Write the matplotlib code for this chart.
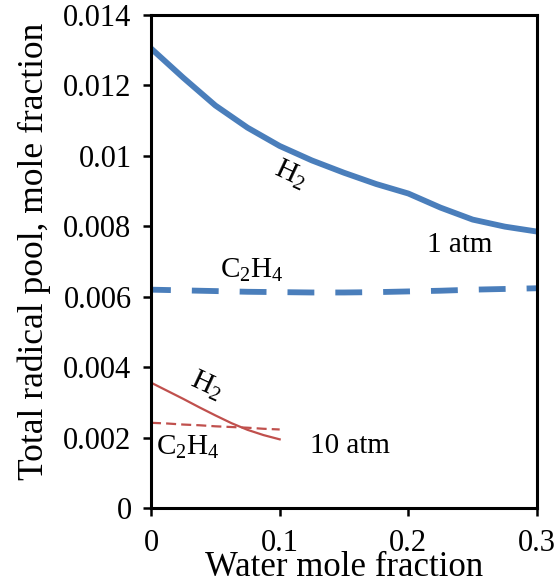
import matplotlib
matplotlib.use("Agg")
from matplotlib import pyplot as plt

plt.rcParams['font.family'] = ['Liberation Serif', 'DejaVu Serif']
plt.rcParams['mathtext.fontset'] = 'custom'
plt.rcParams['mathtext.rm'] = 'Liberation Serif'
plt.rcParams['mathtext.default'] = 'regular'

# 1 atm
x_1atm = [0, 0.025, 0.05, 0.075, 0.1, 0.125, 0.15, 0.175, 0.2, 0.225, 0.25, 0.275, 0.3]
h2_1atm = [0.01305, 0.01222, 0.01143, 0.01080, 0.01028, 0.00987, 0.00952,
           0.00920, 0.00893, 0.00853, 0.00819, 0.00799, 0.00785]
c2h4_1atm = [0.0062, 0.00618, 0.00616, 0.00614, 0.00613, 0.00612, 0.00612,
             0.00613, 0.00615, 0.00617, 0.0062, 0.00622, 0.00624]

# 10 atm
x_10atm = [0, 0.0125, 0.025, 0.0375, 0.05, 0.0625, 0.075, 0.0875, 0.1]
h2_10atm = [0.00356, 0.00333, 0.0031, 0.00286, 0.00263, 0.00241, 0.00222, 0.00207, 0.00195]
c2h4_10atm = [0.00242, 0.0024, 0.00237, 0.00235, 0.00232, 0.0023, 0.00228, 0.00225, 0.00223]

xticks = [0, 0.1, 0.2, 0.3]
xtick_labels = ['0', '0.1', '0.2', '0.3']
yticks = [0, 0.002, 0.004, 0.006, 0.008, 0.01, 0.012, 0.014]
ytick_labels = ['0', '0.002', '0.004', '0.006', '0.008', '0.01', '0.012', '0.014']

blue = '#4A7EBB'
red = '#C0504D'

fig = plt.figure(figsize=(5.54, 5.85), dpi=100)
ax = fig.add_axes([0.2726, 0.1316, 0.6967, 0.8428])

ax.plot(x_1atm, h2_1atm, color=blue, lw=4.2, solid_joinstyle='round')
ax.plot(x_1atm, c2h4_1atm, color=blue, lw=4.2, ls=(1.2, (4.6, 3.6)))
ax.plot(x_10atm, h2_10atm, color=red, lw=1.6)
ax.plot(x_10atm, c2h4_10atm, color=red, lw=1.6, dashes=(4.5, 2.3))

fs = 21
ax.text(0.108, 0.00946, 'H$_2$', fontsize=fs, rotation=-25, ha='center', va='center')
ax.text(0.240, 0.00747, '1 atm', fontsize=fs, ha='center', va='center')
ax.text(0.0785, 0.00676, 'C$_2$H$_4$', fontsize=fs, ha='center', va='center')
ax.text(0.0427, 0.00349, 'H$_2$', fontsize=fs, rotation=-25, ha='center', va='center')
ax.text(0.0288, 0.00173, 'C$_2$H$_4$', fontsize=fs, ha='center', va='center')
ax.text(0.1547, 0.00176, '10 atm', fontsize=fs, ha='center', va='center')

ax.set_xlim(0, 0.3)
ax.set_ylim(0, 0.014)
ax.set_xticks(xticks)
ax.set_xticklabels(xtick_labels)
ax.set_yticks(yticks)
ax.set_yticklabels(ytick_labels)
ax.tick_params(direction='out', length=6, width=1.8, labelsize=22)
ax.tick_params(axis='x', pad=9)
ax.tick_params(axis='y', pad=8)

for s in ax.spines.values():
    s.set_linewidth(2.2)

ax.set_xlabel('Water mole fraction', fontsize=25, labelpad=-5)
ax.set_ylabel('Total radical pool, mole fraction', fontsize=25.5)
ax.yaxis.set_label_coords(-0.26, 0.52)

fig.savefig('out.png', dpi=100)
